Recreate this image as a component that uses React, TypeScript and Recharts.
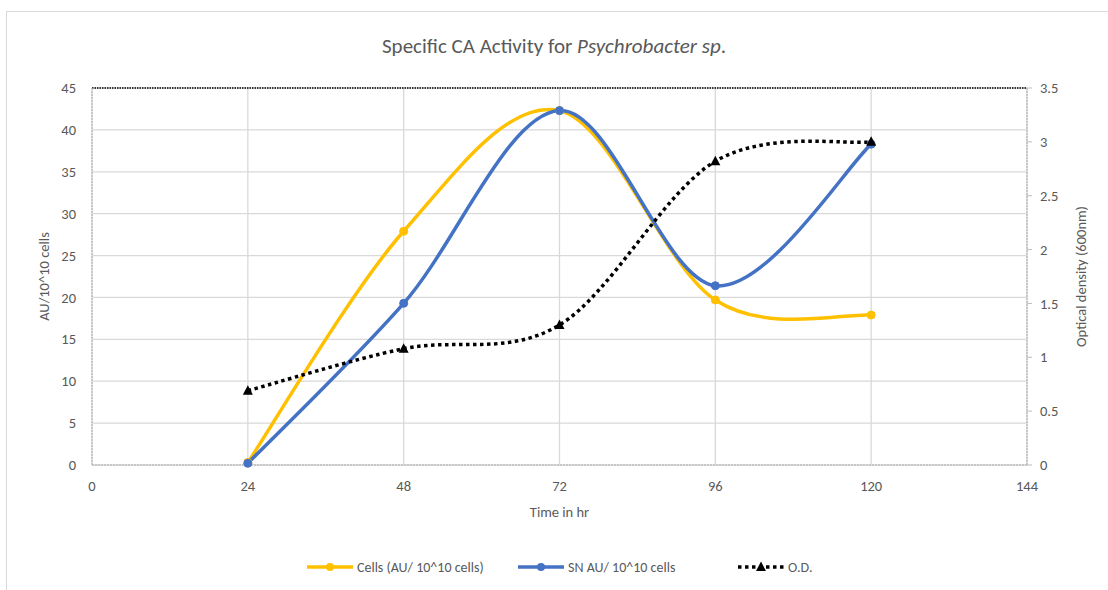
import React from 'react';
import { CartesianGrid, Label, Line, LineChart, ReferenceLine, XAxis, YAxis } from 'recharts';

const hours = [24, 48, 72, 96, 120];
const cellsActivity = [0.3, 27.9, 42.3, 19.7, 17.9];
const snActivity = [0.2, 19.3, 42.3, 21.4, 38.3];
const opticalDensity = [0.69, 1.08, 1.3, 2.82, 3.0];

const xTicks = [0, 24, 48, 72, 96, 120, 144];
const leftTicks = [0, 5, 10, 15, 20, 25, 30, 35, 40, 45];
const rightTicks = [0, 0.5, 1, 1.5, 2, 2.5, 3, 3.5];

const data = hours.map((hour, i) => ({
    hour,
    cells: cellsActivity[i],
    sn: snActivity[i],
    od: opticalDensity[i],
}));

const FONT = 'Carlito, Lato, "Liberation Sans", sans-serif';
const TEXT = '#595959';
const YELLOW = '#FFC000';
const BLUE = '#4472C4';
const AXIS = '#bfbfbf';
const TICK_SIZE = 14.5;

// Excel-like smoothed line: Catmull-Rom segments with clamped ends
function excelSmooth(context: any) {
    let pts: number[][] = [];
    return {
        areaStart() {},
        areaEnd() {},
        lineStart() {
            pts = [];
        },
        point(x: number, y: number) {
            pts.push([+x, +y]);
        },
        lineEnd() {
            const n = pts.length;
            if (!n) return;
            context.moveTo(pts[0][0], pts[0][1]);
            for (let i = 0; i < n - 1; i++) {
                const p0 = pts[Math.max(i - 1, 0)];
                const p1 = pts[i];
                const p2 = pts[i + 1];
                const p3 = pts[Math.min(i + 2, n - 1)];
                context.bezierCurveTo(
                    p1[0] + (p2[0] - p0[0]) / 6,
                    p1[1] + (p2[1] - p0[1]) / 6,
                    p2[0] - (p3[0] - p1[0]) / 6,
                    p2[1] - (p3[1] - p1[1]) / 6,
                    p2[0],
                    p2[1]
                );
            }
        },
    };
}

function Triangle(props: any) {
    const { cx, cy, index } = props;
    if (cx == null || cy == null) return null;
    return <path key={`tri-${index}`} d={`M${cx},${cy - 5.5} L${cx + 5},${cy + 4} L${cx - 5},${cy + 4} Z`} fill="#000" />;
}

function VerticalTitle({ viewBox, value, dx }: any) {
    if (!viewBox) return null;
    const cx = viewBox.x + dx;
    const cy = viewBox.y + viewBox.height / 2;
    return (
        <text
            x={cx}
            y={cy}
            transform={`rotate(-90 ${cx} ${cy})`}
            textAnchor="middle"
            dominantBaseline="central"
            fill={TEXT}
            fontSize={TICK_SIZE}
        >
            {value}
        </text>
    );
}

function LegendItem({ left, color, label, dotted }: { left: number; color: string; label: string; dotted?: boolean }) {
    return (
        <div style={{ position: 'absolute', left, top: 558, display: 'flex', alignItems: 'center', height: 18 }}>
            <svg width={46} height={18}>
                <line
                    x1={0}
                    y1={9}
                    x2={46}
                    y2={9}
                    stroke={color}
                    strokeWidth={3.5}
                    strokeDasharray={dotted ? '3.5 3.5' : undefined}
                />
                {dotted ? (
                    <path d="M23,3.5 L28,13 L18,13 Z" fill={color} />
                ) : (
                    <circle cx={23} cy={9} r={4} fill={color} />
                )}
            </svg>
            <span style={{ marginLeft: 4, fontSize: 14, color: TEXT }}>{label}</span>
        </div>
    );
}

export default function App() {
    return (
        <div
            style={{
                position: 'fixed',
                left: 0,
                top: 0,
                width: 1108,
                height: 590,
                overflow: 'hidden',
                background: '#fff',
                fontFamily: FONT,
            }}
        >
            <div
                style={{
                    position: 'absolute',
                    left: 6,
                    top: 11,
                    width: 1300,
                    height: 800,
                    border: '1.5px solid #d9d9d9',
                }}
            />
            <div
                style={{
                    position: 'absolute',
                    top: 33,
                    left: 0,
                    width: 1108,
                    textAlign: 'center',
                    fontSize: 21,
                    color: TEXT,
                }}
            >
                Specific CA Activity for <i>Psychrobacter sp</i>.
            </div>
            <div style={{ position: 'absolute', left: 0, top: 0 }}>
                <LineChart width={1108} height={590} data={data} margin={{ top: 88, right: 0, bottom: 65, left: 4 }}>
                    <CartesianGrid yAxisId="left" stroke="#d9d9d9" strokeWidth={1.3} />
                    <XAxis
                        dataKey="hour"
                        type="number"
                        domain={[0, 144]}
                        ticks={xTicks}
                        height={60}
                        tickLine={false}
                        tickSize={0}
                        tickMargin={16}
                        tick={{ fill: TEXT, fontSize: TICK_SIZE }}
                        axisLine={{ stroke: AXIS, strokeWidth: 1.5, strokeDasharray: '2 1' }}
                    >
                        <Label value="Time in hr" position="insideBottom" offset={8} fill={TEXT} fontSize={TICK_SIZE} />
                    </XAxis>
                    <YAxis
                        yAxisId="left"
                        domain={[0, 45]}
                        ticks={leftTicks}
                        width={88}
                        tickLine={false}
                        tickSize={0}
                        tickMargin={16}
                        tick={{ fill: TEXT, fontSize: TICK_SIZE }}
                        axisLine={{ stroke: AXIS, strokeWidth: 1.5, strokeDasharray: '2 1' }}
                    >
                        <Label content={(p: any) => <VerticalTitle viewBox={p.viewBox} value="AU/10^10 cells" dx={40} />} />
                    </YAxis>
                    <YAxis
                        yAxisId="right"
                        orientation="right"
                        domain={[0, 3.5]}
                        ticks={rightTicks}
                        width={81}
                        tickLine={{ stroke: AXIS }}
                        tickSize={5}
                        tickMargin={8}
                        tick={{ fill: TEXT, fontSize: TICK_SIZE }}
                        axisLine={{ stroke: AXIS, strokeWidth: 1.5, strokeDasharray: '2 1' }}
                    >
                        <Label
                            content={(p: any) => <VerticalTitle viewBox={p.viewBox} value="Optical density (600nm)" dx={54} />}
                        />
                    </YAxis>
                    <ReferenceLine yAxisId="left" y={45} stroke="#000" strokeWidth={1.5} strokeDasharray="1.5 1" />
                    <Line
                        yAxisId="left"
                        dataKey="cells"
                        type={excelSmooth as any}
                        stroke={YELLOW}
                        strokeWidth={3.5}
                        dot={{ r: 4, fill: YELLOW, stroke: YELLOW, strokeWidth: 1 }}
                        activeDot={false}
                        isAnimationActive={false}
                    />
                    <Line
                        yAxisId="left"
                        dataKey="sn"
                        type={excelSmooth as any}
                        stroke={BLUE}
                        strokeWidth={3.5}
                        dot={{ r: 4, fill: BLUE, stroke: BLUE, strokeWidth: 1 }}
                        activeDot={false}
                        isAnimationActive={false}
                    />
                    <Line
                        yAxisId="right"
                        dataKey="od"
                        type={excelSmooth as any}
                        stroke="#000"
                        strokeWidth={3.5}
                        strokeDasharray="3.5 3.5"
                        dot={(p: any) => <Triangle {...p} />}
                        activeDot={false}
                        isAnimationActive={false}
                    />
                </LineChart>
            </div>
            <LegendItem left={307} color={YELLOW} label="Cells (AU/ 10^10 cells)" />
            <LegendItem left={518} color={BLUE} label="SN AU/ 10^10 cells" />
            <LegendItem left={738} color="#000" label="O.D." dotted />
        </div>
    );
}
